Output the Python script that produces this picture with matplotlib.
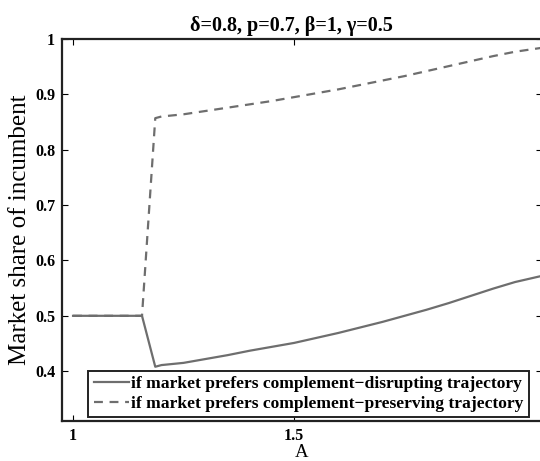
import matplotlib
matplotlib.use('Agg')
import matplotlib.pyplot as plt

plt.rcParams['font.family'] = ['Liberation Serif', 'DejaVu Serif']

# values
a_values = [1.0, 1.05, 1.1, 1.156, 1.186, 1.2, 1.25, 1.3, 1.35, 1.4, 1.45, 1.5,
            1.55, 1.6, 1.65, 1.7, 1.75, 1.8, 1.85, 1.9, 1.95, 2.0, 2.06]
share_disrupt = [0.5, 0.5, 0.5, 0.5, 0.408, 0.411, 0.415, 0.422, 0.429, 0.437, 0.444, 0.451,
                 0.46, 0.469, 0.479, 0.489, 0.5, 0.511, 0.523, 0.536, 0.549, 0.561, 0.572]
share_preserve = [0.5, 0.5, 0.5, 0.5, 0.857, 0.86, 0.864, 0.87, 0.876, 0.882, 0.888, 0.895,
                  0.902, 0.909, 0.917, 0.925, 0.933, 0.942, 0.951, 0.96, 0.969, 0.977, 0.984]

line_color = '#6e6e6e'

fig = plt.figure(figsize=(5.4, 4.61), dpi=100)
ax = fig.add_axes([62 / 540, 1 - 421 / 461, 480 / 540, (421 - 39) / 461])

ax.plot(a_values, share_disrupt, '-', color=line_color, lw=1.6,
        label='if market prefers complement\u2212disrupting trajectory')
ax.plot(a_values, share_preserve, '--', color=line_color, lw=1.6, dashes=(4, 3),
        label='if market prefers complement\u2212preserving trajectory')

ax.set_xlim(0.975, 2.061)
ax.set_ylim(0.31, 1.0)
ax.set_xticks([1, 1.5])
ax.set_xticklabels(['1', '1.5'])
ax.set_yticks([0.4, 0.5, 0.6, 0.7, 0.8, 0.9, 1.0])
ax.set_yticklabels(['0.4', '0.5', '0.6', '0.7', '0.8', '0.9', '1'])
ax.tick_params(direction='in', length=4, width=0.8, labelsize=11.5,
               top=True, right=True, pad=5)
for lbl in ax.get_xticklabels() + ax.get_yticklabels():
    lbl.set_fontweight('bold')
for sp in ax.spines.values():
    sp.set_linewidth(1.6)
    sp.set_color('#222222')

ax.set_xlabel('A', fontsize=13.5, labelpad=0)
ax.set_ylabel('Market share of incumbent', fontsize=18, labelpad=3)
ax.set_title('\u03b4=0.8, p=0.7, \u03b2=1, \u03b3=0.5', fontsize=14.5,
             fontweight='bold', pad=6, x=0.479)

leg = ax.legend(loc='lower right', bbox_to_anchor=(467 / 480, 4 / 382), fancybox=False,
                framealpha=1, edgecolor='#222222', fontsize=12.6, handlelength=2.0,
                handletextpad=0.15, borderpad=0.3, labelspacing=0.2, borderaxespad=0)
leg.get_frame().set_linewidth(1.4)
for t in leg.get_texts():
    t.set_fontweight('bold')

fig.savefig('out.png', dpi=100)
